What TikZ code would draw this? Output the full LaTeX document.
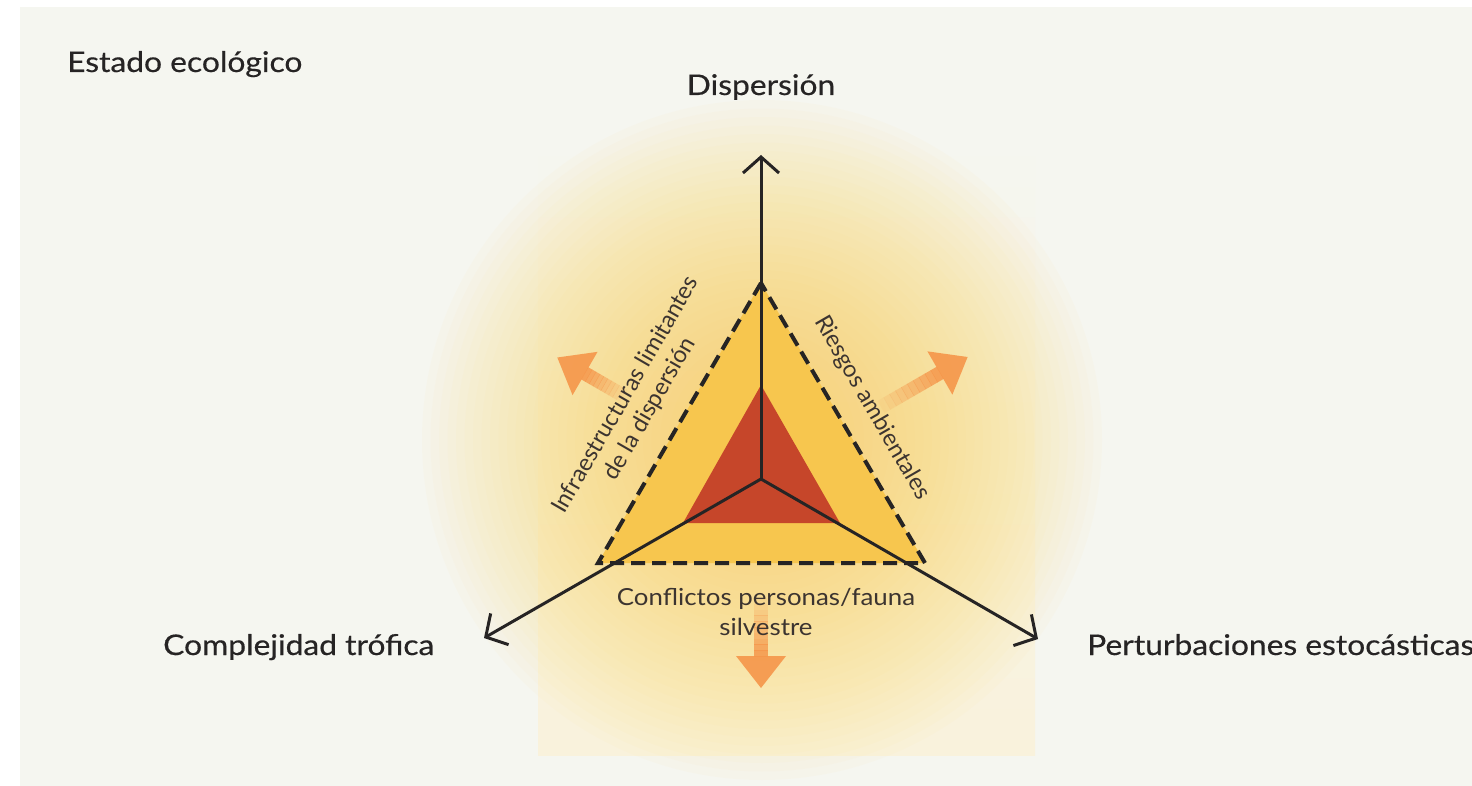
\documentclass[tikz,border=0pt]{standalone}
\usepackage{fontspec}
\setmainfont{Lato}
\newfontfamily\mainfam{Lato}[FakeStretch=1.115, FakeBold=0.45]
\newfontfamily\subfam{Lato}[FakeStretch=1.1]
\usetikzlibrary{arrows.meta}
\definecolor{bgc}{RGB}{245,246,240}
\definecolor{rectc}{RGB}{249,242,220}
\definecolor{glowc}{RGB}{252,214,96}
\definecolor{trifill}{RGB}{247,198,78}
\definecolor{redfill}{RGB}{198,70,42}
\definecolor{orng}{RGB}{245,150,74}
\definecolor{ink}{RGB}{38,36,36}
\definecolor{ink2}{RGB}{60,52,48}
\newcommand{\fadearrow}[4]{% tail, angle, length, head length
  \begin{scope}[shift={#1}, rotate=#2]
    \foreach \i in {0,...,9}{
      \pgfmathsetmacro{\xa}{\i*(#3-#4)/10}
      \pgfmathsetmacro{\xb}{(\i+1)*(#3-#4)/10+0.5}
      \pgfmathsetmacro{\op}{0.08+0.085*\i}
      \fill[orng, opacity=\op] (\xa,-7) rectangle (\xb,7);
    }
    \fill[orng, opacity=0.9] (#3-#4,-25) -- (#3,0) -- (#3-#4,25) -- cycle;
  \end{scope}}
\tikzset{
  axis/.style={line width=3pt, draw=ink, -{Straight Barb[length=16pt,width=36pt]}},
  bound/.style={line width=4pt, draw=ink, dash pattern=on 14pt off 7pt},
  glowring/.style={fill=glowc, opacity=0.035},
  mainlabel/.style={font=\mainfam\fontsize{28.5}{34}\selectfont, text=ink, inner sep=0pt},
  sublabel/.style={font=\subfam\fontsize{23.5}{30}\selectfont, text=ink2, inner sep=0pt, align=center},
  rotlabel/.style={font=\fontsize{23.5}{28}\selectfont, text=ink2, inner sep=0pt, align=center}
}
\begin{document}
\begin{tikzpicture}[x=1pt,y=-1pt]
\useasboundingbox (0,0) rectangle (1472,786);
\fill[white] (0,0) rectangle (1472,786);
\fill[bgc] (20,7) rectangle (1472,786);
\shade[top color=bgc, bottom color=rectc] (538,140) rectangle (1035,755);
\foreach \k in {1,...,40}{
  \fill[glowring] (762,440) circle ({340*\k/40});
}

\coordinate (O) at (761,479);
\coordinate (D) at (761,155);
\coordinate (C) at (484,638);
\coordinate (P) at (1038,639);
\coordinate (T1) at (761,283);
\coordinate (T2) at (598,563);
\coordinate (T3) at (925,563);
\coordinate (R1) at (761,385);
\coordinate (R2) at (683,523);
\coordinate (R3) at (840,523);

\fill[trifill] (T1) -- (T2) -- (T3) -- cycle;
\fill[redfill] (R1) -- (R2) -- (R3) -- cycle;

\fadearrow{(624,396)}{150}{77}{32}
\fadearrow{(881,407)}{30}{100}{32}
\fadearrow{(761,598)}{-90}{90}{32}

\draw[bound] (T1) -- (T2) -- (T3) -- cycle;
\draw[axis] (O) -- (D);
\draw[axis] (O) -- (C);
\draw[axis] (O) -- (P);

\node[mainlabel, anchor=base west] (est) at (67,72) {Estado ecológico};
\node[mainlabel, anchor=base] (disp) at (761,95) {Dispersión};
\node[mainlabel, anchor=base west] (comp) at (163,655) {Complejidad trófica};
\node[mainlabel, anchor=base west] (pert) at (1087,655) {Perturbaciones estocásticas};
\node[sublabel, anchor=base] (conf) at (766,635) {Conflictos personas/fauna\\silvestre};
\node[rotlabel, rotate=60] (infra) at (638,402) {Infraestructuras limitantes\\de la dispersión};
\node[rotlabel, rotate=-60] (ries) at (872,408) {Riesgos ambientales};
\end{tikzpicture}
\end{document}
